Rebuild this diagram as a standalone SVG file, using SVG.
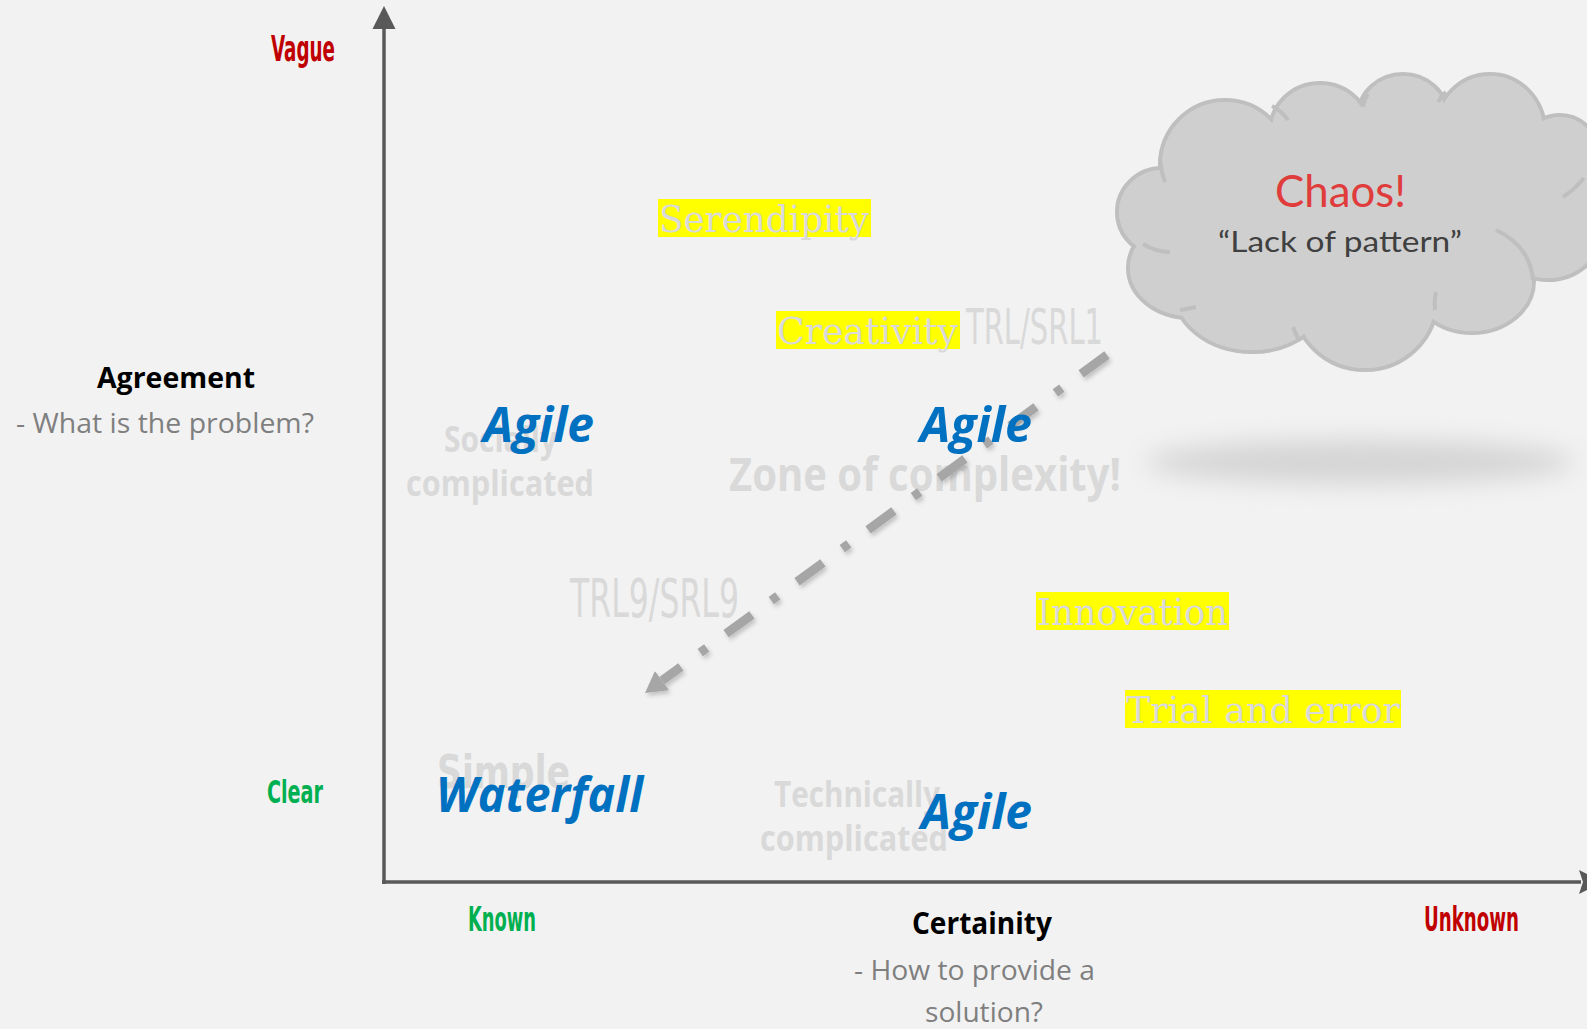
<svg xmlns="http://www.w3.org/2000/svg" width="1587" height="1029" viewBox="0 0 1587 1029">
<defs>
<style>
.cond{font-family:"Liberation Sans Narrow","DejaVu Sans Condensed","Liberation Sans",sans-serif;font-weight:bold}
.thin{font-family:"Liberation Sans Narrow","DejaVu Sans Condensed","Liberation Sans",sans-serif;font-weight:normal;fill:#d9d9d9}
.hl{font-family:"DejaVu Serif","Liberation Serif",serif;fill:#d9d9d9;font-size:38px}
.hlbox{fill:#ffff00}
.agile{font-family:"Open Sans","Liberation Sans",sans-serif;font-weight:bold;font-style:italic;fill:#0070c0;font-size:48px}
.ghost{font-family:"Open Sans","Liberation Sans",sans-serif;font-weight:bold;fill:#d9d9d9}
.lbl{font-family:"Open Sans","Liberation Sans",sans-serif}
.axis{stroke:#595959;stroke-width:3.5;fill:none}
.cloudS ellipse{fill:#cfcfcf;stroke:#bfbfbf;stroke-width:4}
.cloudF ellipse{fill:#cfcfcf;stroke:none}
.inner{fill:none;stroke:#bfbfbf;stroke-width:4}
</style>
<filter id="blur" x="-20%" y="-200%" width="140%" height="500%"><feGaussianBlur stdDeviation="13"/></filter>
<filter id="dsh" x="-10%" y="-10%" width="120%" height="120%"><feDropShadow dx="2" dy="3" stdDeviation="2" flood-color="#000" flood-opacity="0.2"/></filter>
<marker id="ah" markerUnits="userSpaceOnUse" markerWidth="22" markerHeight="26" viewBox="0 -13 22 26" refX="0" refY="0" orient="auto">
<path d="M0,-12 L21,0 L0,12 z" fill="#a6a6a6"/>
</marker>
</defs>
<rect width="1587" height="1029" fill="#f2f2f2"/>

<g id="axes">
<line class="axis" x1="384" y1="27" x2="384" y2="884"/>
<polygon points="384,6 372.5,29 395.5,29" fill="#595959"/>
<line class="axis" x1="382" y1="882" x2="1581" y2="882"/>
<polygon points="1579,870 1603,882 1579,894 1583,882" fill="#595959"/>
</g>

<g id="axis-labels">
<text class="cond" x="271" y="61" font-size="35" fill="#c00000" textLength="64" lengthAdjust="spacingAndGlyphs">Vague</text>
<text class="cond" x="267" y="803" font-size="32" fill="#00b050" textLength="56" lengthAdjust="spacingAndGlyphs">Clear</text>
<text class="cond" x="468" y="931" font-size="33" fill="#00b050" textLength="68" lengthAdjust="spacingAndGlyphs">Known</text>
<text class="cond" x="1424" y="931" font-size="33" fill="#c00000" textLength="95" lengthAdjust="spacingAndGlyphs">Unknown</text>
<text class="lbl" x="97" y="388" font-size="29" font-weight="bold" fill="#000" textLength="158" lengthAdjust="spacingAndGlyphs">Agreement</text>
<text class="lbl" x="16" y="433" font-size="28" fill="#7f7f7f" textLength="298" lengthAdjust="spacingAndGlyphs">- What is the problem?</text>
<text class="lbl" x="912" y="934" font-size="30" font-weight="bold" fill="#000" textLength="140" lengthAdjust="spacingAndGlyphs">Certainity</text>
<text class="lbl" x="854" y="980" font-size="28" fill="#7f7f7f" textLength="241" lengthAdjust="spacingAndGlyphs">- How to provide a</text>
<text class="lbl" x="925" y="1022" font-size="28" fill="#7f7f7f" textLength="118" lengthAdjust="spacingAndGlyphs">solution?</text>
</g>

<g id="shadow">
<ellipse cx="1360" cy="462" rx="215" ry="22" fill="#d4d4d4" filter="url(#blur)"/>
</g>

<g id="chaos-cloud">
<g class="cloudS">
<ellipse cx="1162" cy="212" rx="45" ry="44"/>
<ellipse cx="1225" cy="165" rx="65" ry="65"/>
<ellipse cx="1320" cy="131" rx="50" ry="48"/>
<ellipse cx="1403" cy="116" rx="45" ry="42"/>
<ellipse cx="1490" cy="131" rx="55" ry="57"/>
<ellipse cx="1560" cy="170" rx="45" ry="55"/>
<ellipse cx="1548" cy="222" rx="58" ry="58"/>
<ellipse cx="1472" cy="281" rx="62" ry="52"/>
<ellipse cx="1365" cy="300" rx="72" ry="70"/>
<ellipse cx="1252" cy="287" rx="80" ry="65"/>
<ellipse cx="1190" cy="268" rx="62" ry="50"/>
</g>
<g class="cloudF">
<ellipse cx="1162" cy="212" rx="43" ry="42"/>
<ellipse cx="1225" cy="165" rx="63" ry="63"/>
<ellipse cx="1320" cy="131" rx="48" ry="46"/>
<ellipse cx="1403" cy="116" rx="43" ry="40"/>
<ellipse cx="1490" cy="131" rx="53" ry="55"/>
<ellipse cx="1560" cy="170" rx="43" ry="53"/>
<ellipse cx="1548" cy="222" rx="56" ry="56"/>
<ellipse cx="1472" cy="281" rx="60" ry="50"/>
<ellipse cx="1365" cy="300" rx="70" ry="68"/>
<ellipse cx="1252" cy="287" rx="78" ry="63"/>
<ellipse cx="1190" cy="268" rx="60" ry="48"/>
<ellipse cx="1345" cy="215" rx="190" ry="100"/>
</g>
<path class="inner" d="M1143,244 Q1156,252 1170,252"/>
<path class="inner" d="M1160,158 Q1161,171 1165,182"/>
<path class="inner" d="M1272,106 Q1282,111 1288,120"/>
<path class="inner" d="M1363,107 Q1364,100 1368,94"/>
<path class="inner" d="M1438,102 Q1441,97 1446,92"/>
<path class="inner" d="M1563,197 Q1575,189 1584,178"/>
<path class="inner" d="M1496,230 Q1530,246 1533,280"/>
<path class="inner" d="M1435,310 Q1434,300 1436,292"/>
<path class="inner" d="M1293,327 Q1295,333 1299,340"/>
<path class="inner" d="M1180,310 Q1188,309 1196,307"/>
<text x="1275" y="207" font-family="Lato,'Open Sans',sans-serif" font-size="44" fill="#e03c3c" textLength="131" lengthAdjust="spacingAndGlyphs">Chaos!</text>
<text x="1218" y="252" font-family="Lato,'Open Sans',sans-serif" font-size="28" fill="#404040" textLength="244" lengthAdjust="spacingAndGlyphs">“Lack of pattern”</text>
</g>

<g id="zone-of-complexity">
<text class="ghost" x="729" y="491" font-size="47" textLength="392" lengthAdjust="spacingAndGlyphs">Zone of complexity!</text>
</g>

<g id="socially-complicated">
<text class="ghost" x="444" y="452" font-size="36" textLength="113" lengthAdjust="spacingAndGlyphs">Socially</text>
<text class="ghost" x="406" y="496" font-size="36" textLength="188" lengthAdjust="spacingAndGlyphs">complicated</text>
</g>

<g id="technically-complicated">
<text class="ghost" x="774" y="807" font-size="36" textLength="166" lengthAdjust="spacingAndGlyphs">Technically</text>
<text class="ghost" x="760" y="851" font-size="36" textLength="188" lengthAdjust="spacingAndGlyphs">complicated</text>
</g>

<g id="simple">
<text class="cond" x="437" y="788" font-size="46" fill="#d9d9d9" textLength="133" lengthAdjust="spacingAndGlyphs">Simple</text>
</g>

<g id="trl-srl1">
<text class="thin" x="966" y="344" font-size="50" textLength="137" lengthAdjust="spacingAndGlyphs">TRL/SRL1</text>
</g>
<g id="trl9-srl9">
<text class="thin" x="570" y="617" font-size="53" textLength="169" lengthAdjust="spacingAndGlyphs">TRL9/SRL9</text>
</g>

<g id="serendipity">
<rect class="hlbox" x="658" y="199" width="213" height="38"/>
<text class="hl" x="659" y="232" textLength="210" lengthAdjust="spacingAndGlyphs">Serendipity</text>
</g>
<g id="creativity">
<rect class="hlbox" x="776" y="311" width="184" height="38"/>
<text class="hl" x="777" y="344" textLength="181" lengthAdjust="spacingAndGlyphs">Creativity</text>
</g>
<g id="innovation">
<rect class="hlbox" x="1036" y="592" width="193" height="38"/>
<text class="hl" x="1037" y="625" textLength="191" lengthAdjust="spacingAndGlyphs">Innovation</text>
</g>
<g id="trial-and-error">
<rect class="hlbox" x="1125" y="690" width="276" height="38"/>
<text class="hl" x="1126" y="723" textLength="274" lengthAdjust="spacingAndGlyphs">Trial and error</text>
</g>

<g id="connectors">
<line x1="1107" y1="355" x2="662" y2="680.6" stroke="#a6a6a6" stroke-width="9" stroke-dasharray="32 24 8 24" marker-end="url(#ah)" filter="url(#dsh)"/>
</g>

<g id="agile-1"><text class="agile" x="483" y="442" textLength="111" lengthAdjust="spacingAndGlyphs">Agile</text></g>
<g id="agile-2"><text class="agile" x="920" y="442" textLength="112" lengthAdjust="spacingAndGlyphs">Agile</text></g>
<g id="agile-3"><text class="agile" x="921" y="829" textLength="111" lengthAdjust="spacingAndGlyphs">Agile</text></g>
<g id="waterfall"><text class="agile" x="436" y="812" textLength="207" lengthAdjust="spacingAndGlyphs">Waterfall</text></g>
</svg>
